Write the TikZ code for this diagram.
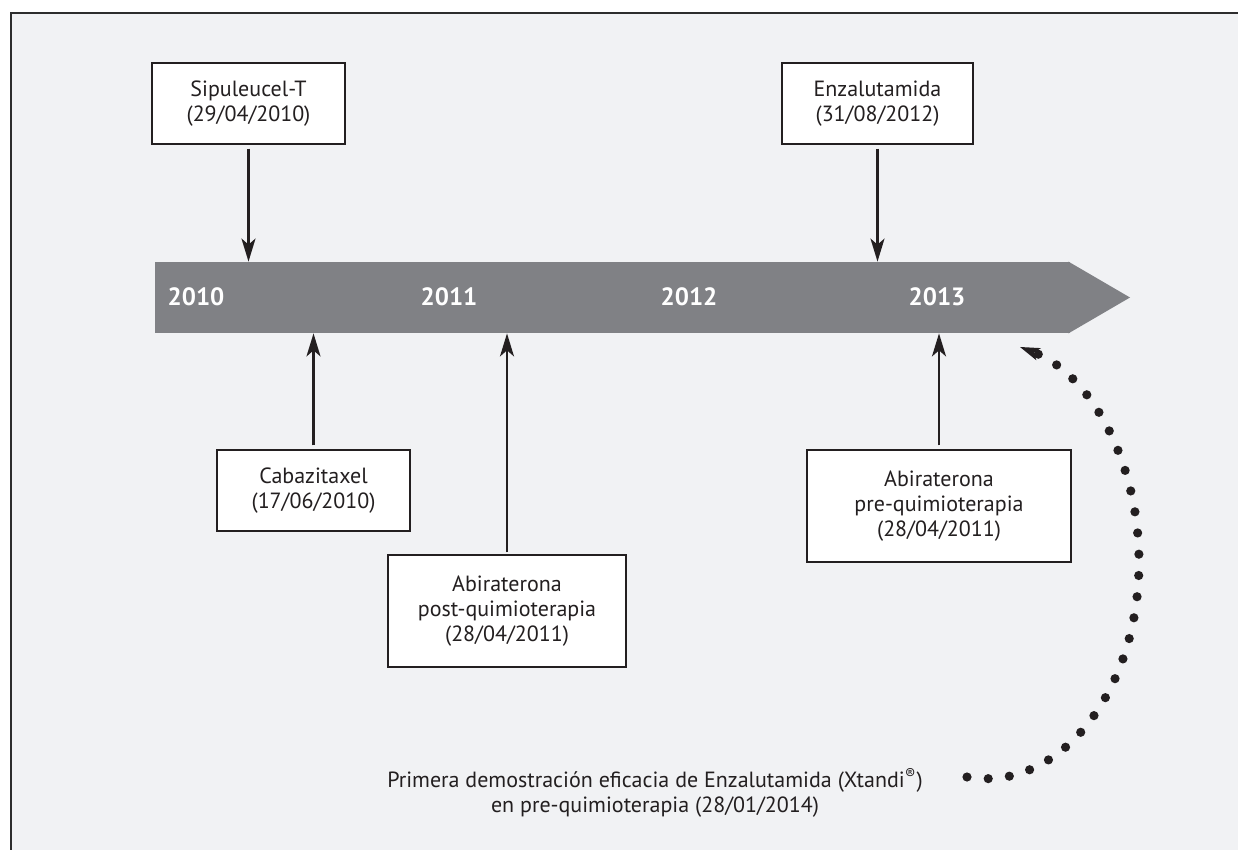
\documentclass[tikz,border=0pt]{standalone}
\usepackage{fontspec}
\setmainfont{PT Sans}
\usepackage{tikz}
\usetikzlibrary{arrows.meta,positioning}
\definecolor{tlpanel}{RGB}{241,242,244}
\definecolor{tlgray}{RGB}{128,129,133}
\definecolor{tlink}{RGB}{35,31,32}
\definecolor{tlframe}{RGB}{45,45,45}
\tikzstyle{event} = [rectangle, minimum width=96.5pt, minimum height=40.5pt, align=center, draw=tlink, fill=white, line width=0.6pt, text=tlink, font=\fontsize{11}{12.5}\selectfont]
\tikzstyle{year} = [text=white, font=\fontsize{12.5}{15}\selectfont\bfseries]
\tikzstyle{timeband} = [rectangle, fill=tlgray, minimum width=457.5pt, minimum height=35.5pt, inner sep=0pt]
\tikzstyle{arrow} = [line width=1.1pt, draw=tlink, -{Stealth[length=11.5pt,width=7pt,inset=3pt]}]
\tikzstyle{dotarrow} = [line width=4.6pt, draw=tlink, line cap=round, dash pattern=on 0pt off 10.65pt, -{Stealth[length=10pt,width=6.5pt,inset=2.5pt,line width=0pt]}]

\begin{document}
\begin{tikzpicture}[x=0.5pt,y=-0.5pt]
\useasboundingbox (0,0) rectangle (1238,850);
% Panel
\fill[tlpanel] (11,13) rectangle (1238,850);
\draw[tlframe, line width=1.2pt] (11,850) -- (11,13) -- (1238,13);

% Timeline
\node (band) [timeband] at (612.5,297.5) {};
\coordinate (tip) at (1130,297.5);
\fill[tlgray] ([xshift=-1pt]band.north east) -- (tip) -- ([xshift=-1pt]band.south east) -- cycle;
\node (y2010) [year] at (196,297) {2010};
\node (y2011) [year] at (449,297) {2011};
\node (y2012) [year] at (689,297) {2012};
\node (y2013) [year] at (937,297) {2013};

% Approvals
\node (sip) [event] at (248.5,103.5) {Sipuleucel-T\\(29/04/2010)};
\node (enza) [event, minimum width=95.5pt] at (877.5,103.5) {Enzalutamida\\(31/08/2012)};
\node (caba) [event] at (313.5,490.5) {Cabazitaxel\\(17/06/2010)};
\node (abipost) [event, minimum width=119pt, minimum height=56pt] at (507,611) {Abiraterona\\post-quimioterapia\\(28/04/2011)};
\node (abipre) [event, minimum width=132pt, minimum height=56pt] at (939,506) {Abiraterona\\pre-quimioterapia\\(28/04/2011)};

% Arrows
\draw[arrow, shorten <=2pt] (sip) -- (sip |- band.north);
\draw[arrow, shorten <=2pt] (enza) -- (enza |- band.north);
\draw[arrow, shorten <=2pt] (caba) -- (caba |- band.south);
\draw[arrow, shorten <=1pt] (abipost) -- (abipost |- band.south);
\draw[arrow, shorten <=2pt] (abipre) -- (abipre |- band.south);

% Pre-chemo result
\node (note) [text=tlink, align=center, font=\fontsize{11}{12.5}\selectfont] at (655,793) {Primera demostración eficacia de Enzalutamida (Xtandi\textsuperscript{®})\\en pre-quimioterapia (28/01/2014)};
\coordinate (dotstart) at (967,777);
\coordinate (dotend) at (1020,347);
\draw[dotarrow] (dotstart) .. controls (1059,793) and (1139,692) .. (1139,562) .. controls (1139,461) and (1090,374) .. (dotend);
\end{tikzpicture}
\end{document}
